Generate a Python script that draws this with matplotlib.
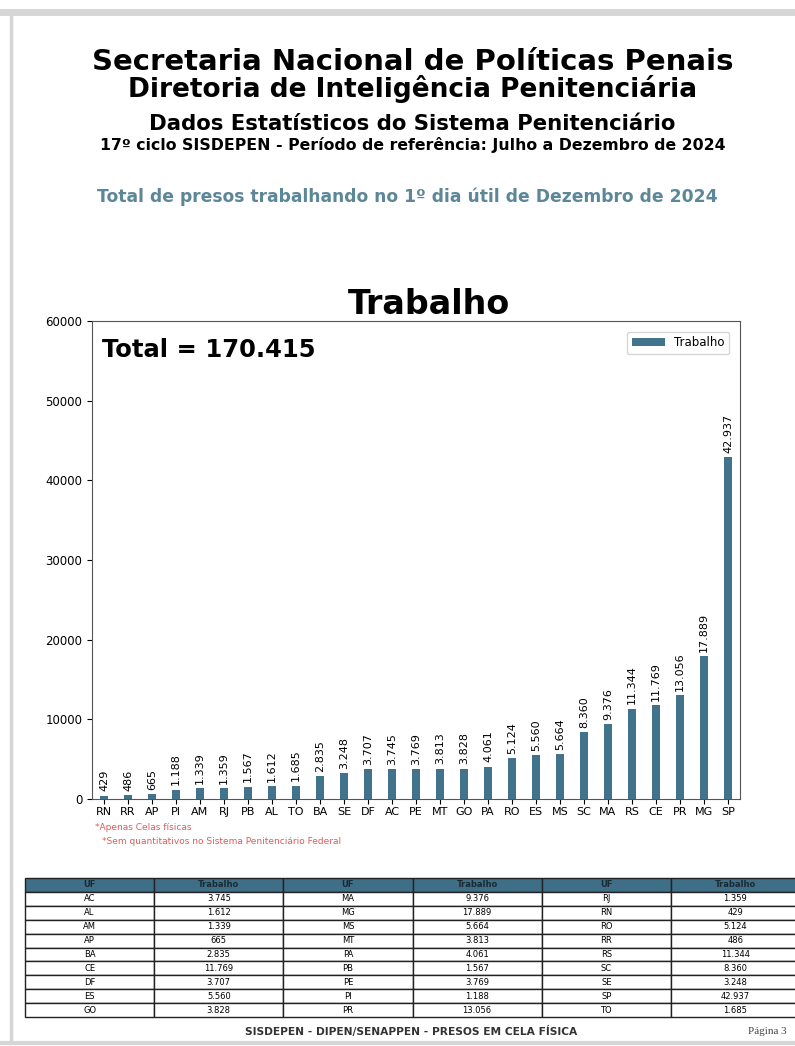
import matplotlib
matplotlib.use("Agg")
import matplotlib.pyplot as plt
from matplotlib.lines import Line2D

# dados (ordenados como no grafico)
estados = ["RN", "RR", "AP", "PI", "AM", "RJ", "PB", "AL", "TO", "BA", "SE", "DF", "AC", "PE",
           "MT", "GO", "PA", "RO", "ES", "MS", "SC", "MA", "RS", "CE", "PR", "MG", "SP"]
trabalho = [429, 486, 665, 1188, 1339, 1359, 1567, 1612, 1685, 2835, 3248, 3707, 3745, 3769,
            3813, 3828, 4061, 5124, 5560, 5664, 8360, 9376, 11344, 11769, 13056, 17889, 42937]
notas = ["*Apenas Celas físicas", "*Sem quantitativos no Sistema Penitenciário Federal"]

COR_BARRA = "#41738c"
COR_CABEC = "#3f6f87"


def fmt(v):
    return f"{v:,}".replace(",", ".")


fig = plt.figure(figsize=(7.95, 10.46), dpi=100)

# borda da pagina
fig.add_artist(Line2D([0, 1], [1 - 12 / 1046] * 2, color="#d6d6d6", lw=5))
fig.add_artist(Line2D([11 / 795] * 2, [1 - 12 / 1046, 1 - 1043 / 1046], color="#d6d6d6", lw=2.5))
fig.add_artist(Line2D([0, 1], [1 - 1043 / 1046] * 2, color="#d6d6d6", lw=3))

# cabecalho
cx = 0.519
fig.text(cx, 1 - 62 / 1046, "Secretaria Nacional de Políticas Penais", ha="center", va="center",
         fontsize=21, fontweight="bold")
fig.text(cx, 1 - 89 / 1046, "Diretoria de Inteligência Penitenciária", ha="center", va="center",
         fontsize=19, fontweight="bold")
fig.text(cx, 1 - 124 / 1046, "Dados Estatísticos do Sistema Penitenciário", ha="center", va="center",
         fontsize=15.3, fontweight="bold")
fig.text(cx, 1 - 145 / 1046, "17º ciclo SISDEPEN - Período de referência: Julho a Dezembro de 2024",
         ha="center", va="center", fontsize=11.3, fontweight="bold")
fig.text(0.512, 1 - 197 / 1046, "Total de presos trabalhando no 1º dia útil de Dezembro de 2024",
         ha="center", va="center", fontsize=12.3, fontweight="bold", color="#5b8799")

# grafico
ax = fig.add_axes([92 / 795, 1 - 799 / 1046, 648 / 795, 478 / 1046])
bars = ax.bar(estados, trabalho, width=0.35, color=COR_BARRA, label="Trabalho")
ax.bar_label(bars, labels=[fmt(v) for v in trabalho], rotation=90, padding=3, fontsize=8)
ax.set_ylim(0, 60000)
ax.set_xlim(-0.5, len(estados) - 0.5)
ax.set_yticks(range(0, 60001, 10000))
ax.tick_params(axis="x", labelsize=8, pad=2.5)
ax.tick_params(axis="y", labelsize=8.5)
ax.set_title("Trabalho", fontsize=24, fontweight="bold", pad=2, x=0.52)
ax.text(0.015, 0.965, f"Total = {fmt(sum(trabalho))}", transform=ax.transAxes, ha="left", va="top",
        fontsize=17.5, fontweight="bold")
ax.legend(loc="upper right", fontsize=8.5, handlelength=2.8, borderaxespad=0.9)
for s in ax.spines.values():
    s.set_color("#555555")

# notas
fig.text(95 / 795, 1 - 827 / 1046, notas[0], fontsize=6.5, color="#e05a5a", va="center")
fig.text(102 / 795, 1 - 841 / 1046, notas[1], fontsize=6.5, color="#e05a5a", va="center")

# tabela
ordem = sorted(zip(estados, trabalho))
linhas = []
for i in range(9):
    linha = []
    for g in range(3):
        uf, v = ordem[g * 9 + i]
        linha += [uf, fmt(v)]
    linhas.append(linha)

axt = fig.add_axes([25 / 795, 1 - 1017 / 1046, 775 / 795, 139 / 1046])
axt.axis("off")
tab = axt.table(cellText=linhas, colLabels=["UF", "Trabalho"] * 3, cellLoc="center",
                bbox=[0, 0, 1, 1])
tab.auto_set_font_size(False)
tab.set_fontsize(6)
for (r, c), cell in tab.get_celld().items():
    cell.set_edgecolor("#222222")
    cell.set_linewidth(1.0)
    if r == 0:
        cell.set_facecolor(COR_CABEC)
        cell.get_text().set_fontweight("bold")
        cell.get_text().set_color("#1a2a33")

# rodape
fig.text(411 / 795, 1 - 1032 / 1046, "SISDEPEN - DIPEN/SENAPPEN - PRESOS EM CELA FÍSICA", ha="center",
         va="center", fontsize=7.7, fontweight="bold", color="#333333")
fig.text(748 / 795, 1 - 1032 / 1046, "Página 3", ha="left", va="center", fontsize=8,
         family="Liberation Serif", color="#444444")

fig.savefig("out.png", dpi=100)
